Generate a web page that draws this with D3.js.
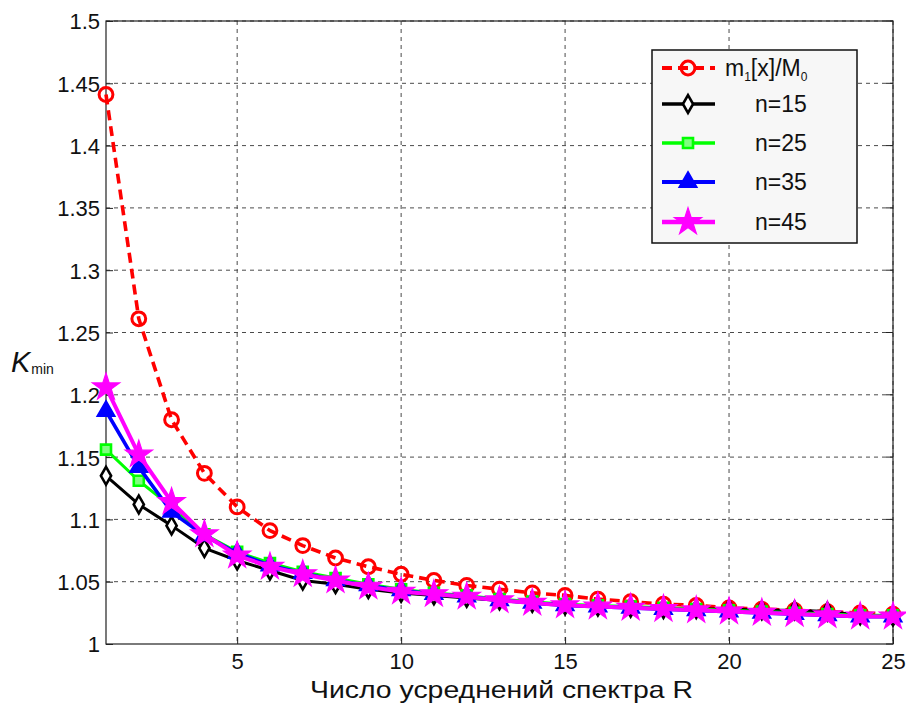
<!DOCTYPE html>
<html>
<head>
<meta charset="utf-8">
<script src="https://cdn.jsdelivr.net/npm/d3@7/dist/d3.min.js"></script>
<style>
  html, body { margin: 0; padding: 0; background: #fff; }
  svg { display: block; }
  text { font-family: "Liberation Sans", Arial, sans-serif; fill: #111; }
</style>
</head>
<body>
<svg id="chart" width="906" height="709"></svg>
<script>
// Number of spectrum averages R
const R = d3.range(1, 26);

// Reference curve m1[x]/M0
const ratioM = [1.441, 1.261, 1.180, 1.137, 1.110, 1.091, 1.079, 1.069, 1.062, 1.056,
                1.051, 1.047, 1.044, 1.041, 1.039, 1.036, 1.034, 1.032, 1.031, 1.029,
                1.028, 1.027, 1.026, 1.025, 1.024];
// K_min for different n
const n15 = [1.135, 1.112, 1.095, 1.077, 1.067, 1.059, 1.051, 1.048, 1.044, 1.041,
             1.039, 1.037, 1.035, 1.033, 1.031, 1.030, 1.029, 1.028, 1.028, 1.028,
             1.027, 1.027, 1.026, 1.023, 1.022];
const n25 = [1.156, 1.131, 1.110, 1.088, 1.074, 1.065, 1.058, 1.053, 1.048, 1.044,
             1.041, 1.039, 1.036, 1.034, 1.032, 1.031, 1.030, 1.029, 1.028, 1.027,
             1.026, 1.025, 1.024, 1.023, 1.023];
const n35 = [1.187, 1.142, 1.106, 1.087, 1.073, 1.063, 1.057, 1.051, 1.047, 1.043,
             1.040, 1.038, 1.035, 1.033, 1.031, 1.030, 1.029, 1.028, 1.027, 1.026,
             1.025, 1.024, 1.023, 1.022, 1.022];
const n45 = [1.206, 1.152, 1.114, 1.088, 1.071, 1.062, 1.056, 1.051, 1.046, 1.042,
             1.040, 1.038, 1.035, 1.033, 1.031, 1.030, 1.029, 1.028, 1.027, 1.026,
             1.025, 1.024, 1.023, 1.022, 1.022];

const xTicks = [5, 10, 15, 20, 25];
const yTicks = [1, 1.05, 1.1, 1.15, 1.2, 1.25, 1.3, 1.35, 1.4, 1.45, 1.5];
const yTickLabels = ["1", "1.05", "1.1", "1.15", "1.2", "1.25", "1.3", "1.35", "1.4", "1.45", "1.5"];
const legendLabels = ["n=15", "n=25", "n=35", "n=45"];

const svg = d3.select("#chart");
const plot = { left: 106, right: 893, top: 21, bottom: 644 };

const x = d3.scaleLinear().domain([1, 25]).range([plot.left, plot.right]);
const y = d3.scaleLinear().domain([1, 1.5]).range([plot.bottom, plot.top]);

// Dashed grid
const grid = svg.append("g").attr("stroke", "#4a4a4a").attr("stroke-width", 1)
  .attr("stroke-dasharray", "4,4");
grid.selectAll("line.gx").data(xTicks).join("line")
  .attr("x1", d => x(d)).attr("x2", d => x(d))
  .attr("y1", plot.top).attr("y2", plot.bottom);
grid.selectAll("line.gy").data(yTicks.slice(1)).join("line")
  .attr("x1", plot.left).attr("x2", plot.right)
  .attr("y1", d => y(d)).attr("y2", d => y(d));

// Axes: ticks point inward, box around the plot
const xAxis = d3.axisBottom(x).tickValues(xTicks).tickSizeInner(-7).tickSizeOuter(0).tickPadding(9);
const yAxis = d3.axisLeft(y).tickValues(yTicks).tickSizeInner(-7).tickSizeOuter(0).tickPadding(6)
  .tickFormat((d, i) => yTickLabels[i]);

const gx = svg.append("g").attr("transform", `translate(0,${plot.bottom})`).call(xAxis);
const gy = svg.append("g").attr("transform", `translate(${plot.left},0)`).call(yAxis);
[gx, gy].forEach(g => {
  g.select(".domain").remove();
  g.selectAll(".tick line").attr("stroke", "#222").attr("stroke-width", 1);
  g.selectAll(".tick text").style("font-size", "22px").attr("fill", "#111")
    .style("font-family", "'Liberation Sans', Arial, sans-serif");
});
gy.selectAll(".tick text").attr("dy", "0.36em");

// right-side ticks
svg.append("g").selectAll("line").data(yTicks).join("line")
  .attr("x1", plot.right).attr("x2", plot.right - 7)
  .attr("y1", d => y(d)).attr("y2", d => y(d))
  .attr("stroke", "#222");

svg.append("rect")
  .attr("x", plot.left).attr("y", plot.top)
  .attr("width", plot.right - plot.left).attr("height", plot.bottom - plot.top)
  .attr("fill", "none").attr("stroke", "#222").attr("stroke-width", 1.2);

// Series definitions
const series = [
  { values: ratioM, color: "#ff0000", width: 3.6, dash: "10,6", symbol: d3.symbolCircle, size: 150, fill: "none", sw: 3 },
  { values: n15, color: "#000000", width: 3, dash: null, symbol: d3.symbolDiamond, size: 90, fill: "#fff", sw: 2.6 },
  { values: n25, color: "#00ff00", width: 3, dash: null, symbol: d3.symbolSquare, size: 100, fill: "#7fff7f", sw: 2.6 },
  { values: n35, color: "#0000ff", width: 3.6, dash: null, symbol: d3.symbolTriangle, size: 130, fill: "#0000ff", sw: 1.8 },
  { values: n45, color: "#ff00ff", width: 4, dash: null, symbol: d3.symbolStar, size: 230, fill: "#ff00ff", sw: 1.2 }
];

const line = d3.line().x((d, i) => x(R[i])).y(d => y(d));

series.forEach(s => {
  const g = svg.append("g");
  g.append("path").datum(s.values)
    .attr("d", line)
    .attr("fill", "none")
    .attr("stroke", s.color)
    .attr("stroke-width", s.width)
    .attr("stroke-dasharray", s.dash)
    .attr("stroke-linejoin", "round");
  g.selectAll("path.m").data(s.values).join("path")
    .attr("class", "m")
    .attr("transform", (d, i) => `translate(${x(R[i])},${y(d)})`)
    .attr("d", d3.symbol(s.symbol, s.size)())
    .attr("fill", s.fill)
    .attr("stroke", s.color)
    .attr("stroke-width", s.sw);
});

// Legend
const lg = svg.append("g");
lg.append("rect").attr("x", 652).attr("y", 50).attr("width", 205).attr("height", 193)
  .attr("fill", "#f7f7f7").attr("stroke", "#111").attr("stroke-width", 1.5);
const rowY = [68, 104, 143, 182, 222];
series.forEach((s, i) => {
  const yy = rowY[i];
  lg.append("line").attr("x1", 662).attr("x2", 715).attr("y1", yy).attr("y2", yy)
    .attr("stroke", s.color).attr("stroke-width", s.width + 0.6).attr("stroke-dasharray", s.dash);
  lg.append("path").attr("transform", `translate(688,${yy})`)
    .attr("d", d3.symbol(s.symbol, s.size)())
    .attr("fill", s.fill).attr("stroke", s.color).attr("stroke-width", s.sw);
});
// m1[x]/M0 label with subscripts
const t0 = lg.append("text").attr("x", 725).attr("y", rowY[0] + 8).style("font-size", "23px").attr("fill", "#111");
t0.append("tspan").text("m");
t0.append("tspan").attr("dy", 5).style("font-size", "12px").text("1");
t0.append("tspan").attr("dy", -5).text("[x]/M");
t0.append("tspan").attr("dy", 5).style("font-size", "12px").text("0");
legendLabels.forEach((lab, i) => {
  lg.append("text").attr("x", 755).attr("y", rowY[i + 1] + 8)
    .style("font-size", "23px").attr("fill", "#111").text(lab);
});

// Axis titles
svg.append("text").attr("x", 310).attr("y", 698)
  .attr("textLength", 383).attr("lengthAdjust", "spacingAndGlyphs")
  .style("font-size", "24px").attr("fill", "#111")
  .text("Число усреднений спектра R");

const yl = svg.append("text").attr("x", 11).attr("y", 372).attr("fill", "#333");
yl.append("tspan").style("font-size", "29px").style("font-style", "italic").text("K");
yl.append("tspan").attr("dx", 1).attr("dy", 2).style("font-size", "14px").text("min");
</script>
</body>
</html>
